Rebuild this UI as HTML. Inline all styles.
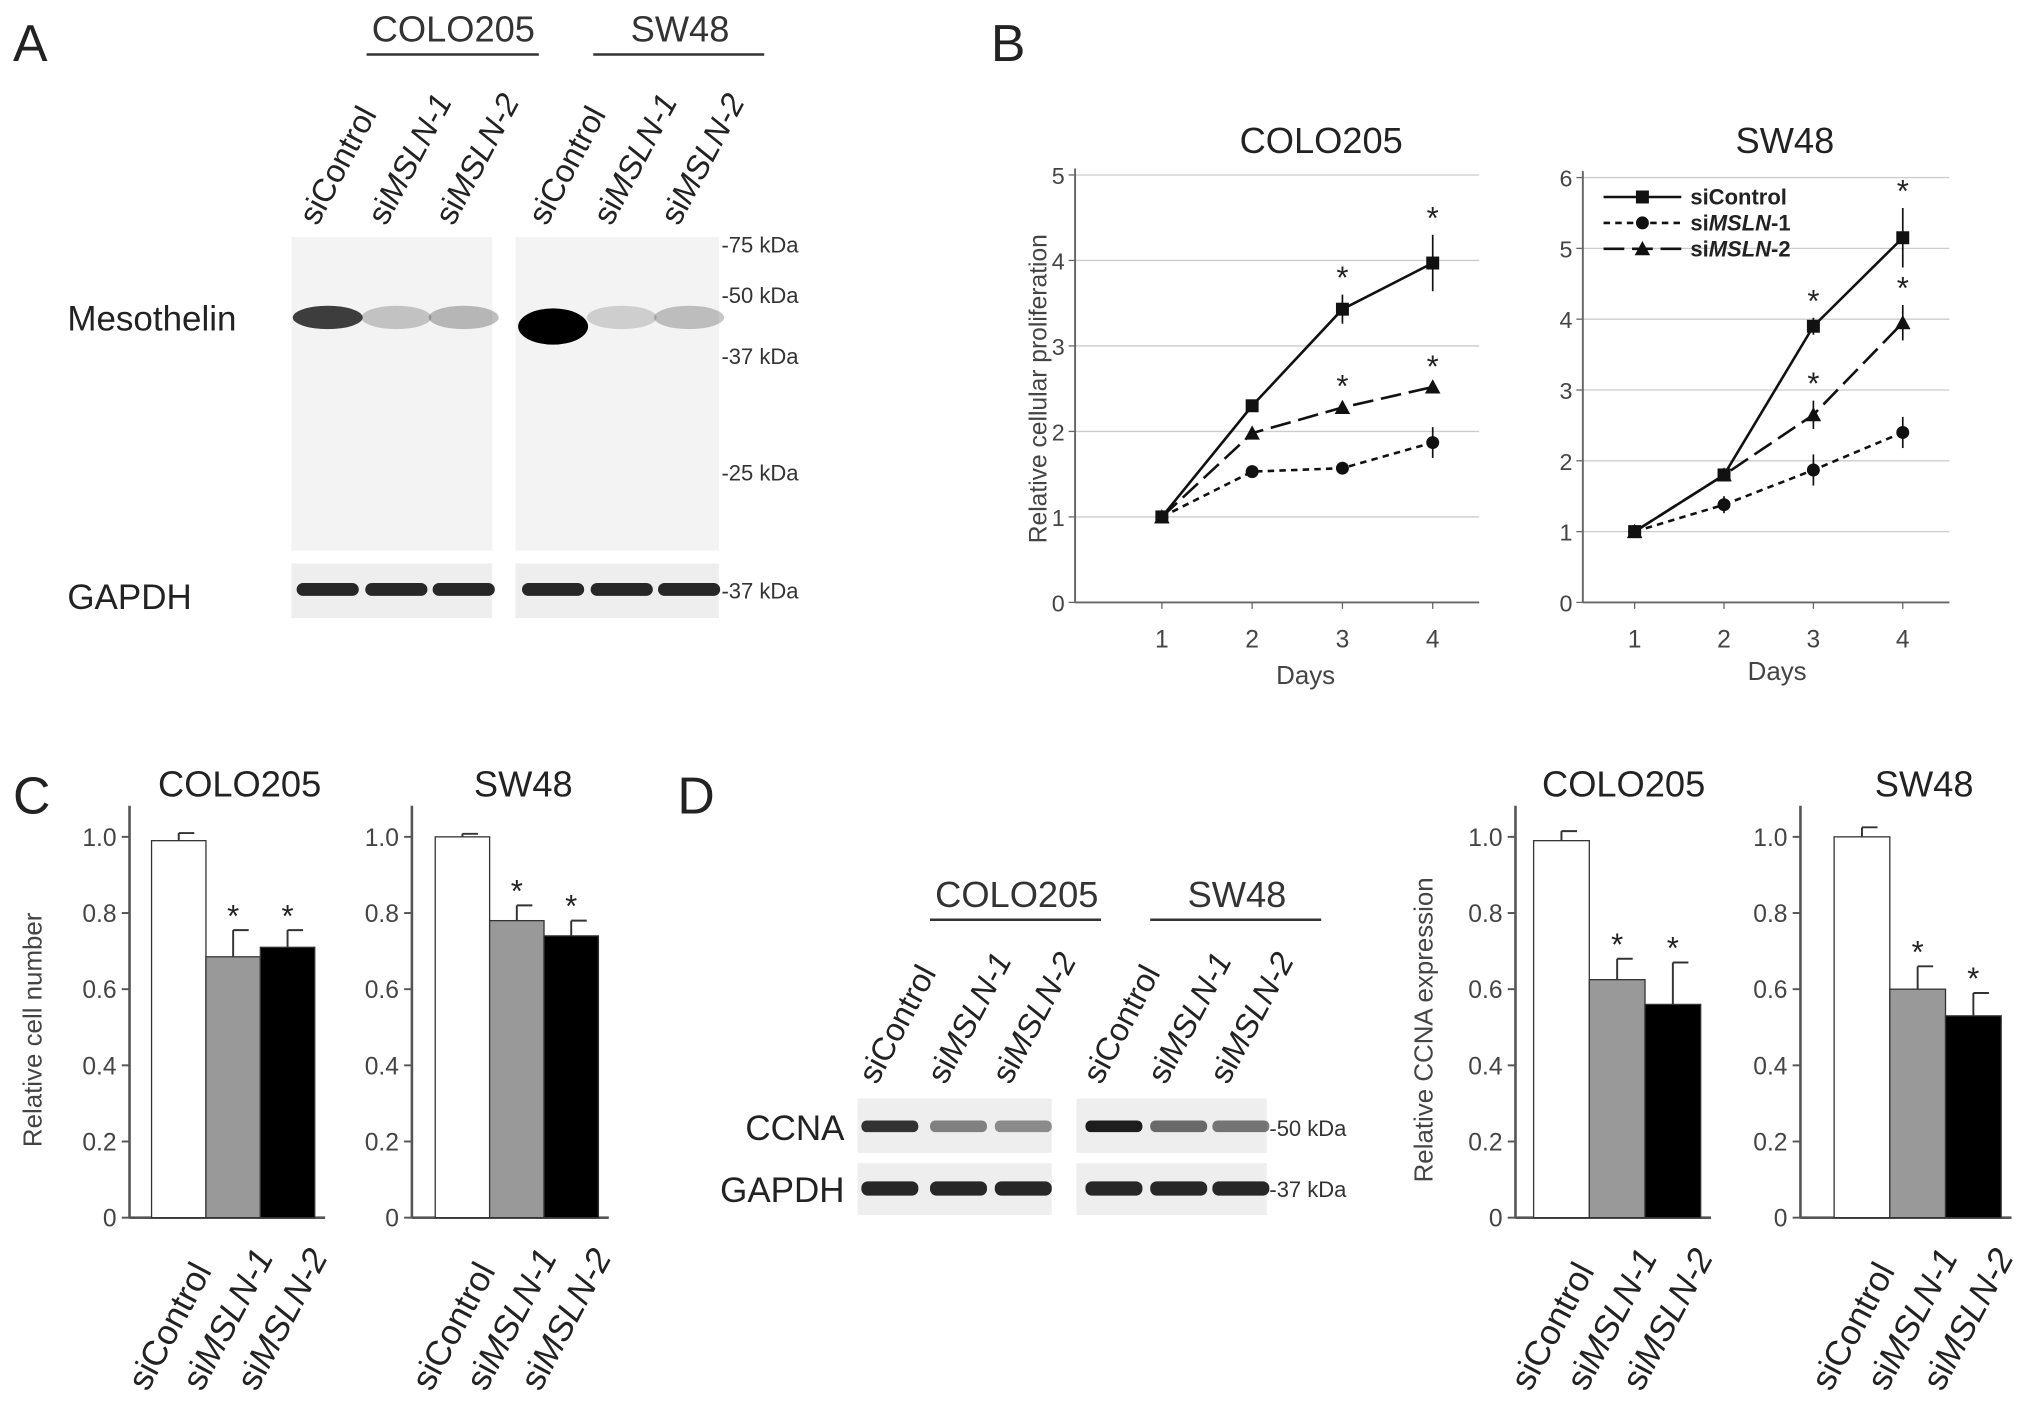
<!DOCTYPE html>
<html><head><meta charset="utf-8"><style>
html,body{margin:0;padding:0;background:#fff}
svg{display:block}
text{font-family:"Liberation Sans",sans-serif}
</style></head><body>
<svg id="fig" width="2031" height="1403" viewBox="0 0 1568 1083" xmlns="http://www.w3.org/2000/svg">
<rect width="1568" height="1083" fill="#fff"/>
<g id="root"></g>
</svg>
<script>
// ---- Panel B data ----
const days = [1, 2, 3, 4];
const coloCtrl = [1, 2.3, 3.43, 3.97];
const coloM1 = [1, 1.53, 1.57, 1.87];
const coloM2 = [1, 1.98, 2.28, 2.52];
const coloCtrlErr = [0, 0.06, 0.17, 0.33];
const coloM1Err = [0, 0.03, 0.03, 0.18];
const coloM2Err = [0, 0.03, 0.05, 0.04];
const swCtrl = [1, 1.8, 3.9, 5.15];
const swM1 = [1, 1.38, 1.87, 2.4];
const swM2 = [1, 1.8, 2.65, 3.95];
const swCtrlErr = [0, 0.07, 0.12, 0.42];
const swM1Err = [0, 0.12, 0.22, 0.22];
const swM2Err = [0, 0.05, 0.2, 0.25];
const coloTicks = [0, 1, 2, 3, 4, 5];
const swTicks = [0, 1, 2, 3, 4, 5, 6];
const coloStar = [false, false, true, true];
const swStar = [false, false, true, true];
// ---- Panel C / D data ----
const barCats = ["siControl", "siMSLN-1", "siMSLN-2"];
const cColo = [0.99, 0.685, 0.71];
const cColoErr = [0.02, 0.07, 0.045];
const cSw = [1.0, 0.78, 0.74];
const cSwErr = [0.008, 0.04, 0.04];
const dColo = [0.99, 0.625, 0.56];
const dColoErr = [0.025, 0.055, 0.11];
const dSw = [1.0, 0.6, 0.53];
const dSwErr = [0.025, 0.06, 0.06];
const barTicks = [0, 0.2, 0.4, 0.6, 0.8, 1.0];
const barStars = [false, true, true];

const NS = "http://www.w3.org/2000/svg";
const root = document.getElementById("root");
function mk(tag, attrs, parent, txt) {
  const e = document.createElementNS(NS, tag);
  for (const k in attrs) e.setAttribute(k, attrs[k]);
  if (txt !== undefined) e.textContent = txt;
  (parent || root).appendChild(e);
  return e;
}
function label(x, y, s, size, opts) {
  opts = opts || {};
  const t = mk("text", {x: x, y: y, "font-size": size, fill: opts.fill || "#333", "text-anchor": opts.anchor || "middle"}, opts.parent, s);
  if (opts.rot) t.setAttribute("transform", "rotate(" + opts.rot + " " + x + " " + y + ")");
  
  
  return t;
}
function siLabel(x, y, kind, size, name) {
  const t = mk("text", {x: x, y: y, "font-size": size, fill: "#222", "text-anchor": "start", transform: "rotate(-62 " + x + " " + y + ")"});
  
  
  if (kind === "siControl") { t.textContent = "siControl"; }
  else {
    mk("tspan", {}, t, "si");
    mk("tspan", {"font-style": "italic"}, t, "MSLN" + kind.slice(6));
  }
  return t;
}

// ---------------- Panel A ----------------
label(10, 47, "A", 40, {anchor: "start", fill: "#222", name: "panel-a-letter"});
label(350, 32, "COLO205", 28, {name: "blot-a-colo205-header"});
let l = mk("line", {x1: 283, y1: 42, x2: 416, y2: 42, stroke: "#333", "stroke-width": 2});  
label(525, 32, "SW48", 28, {name: "blot-a-sw48-header"});
l = mk("line", {x1: 458, y1: 42, x2: 590, y2: 42, stroke: "#333", "stroke-width": 2});  
const laneA = [253, 306, 358, 430, 480, 532];
laneA.forEach((x, i) => siLabel(x - 8, 175, barCats[i % 3], 25, "lane-label-a-" + i));
[[225, 380], [398, 555]].forEach((r, i) => {
  let b = mk("rect", {x: r[0], y: 183, width: r[1] - r[0], height: 242, fill: "#f3f3f3"});  
  b = mk("rect", {x: r[0], y: 435, width: r[1] - r[0], height: 42, fill: "#eeeeee"});  
});
const bandA = [[253, 0.75], [306, 0.2], [358, 0.25], [427, 1], [480, 0.15], [532, 0.22]];
bandA.forEach((b, i) => {
  const e = mk("ellipse", {cx: b[0], cy: i === 3 ? 252 : 245, rx: 27, ry: i === 3 ? 14 : 9, fill: "#000", opacity: b[1]});
   
  const g = mk("rect", {x: b[0] - 24, y: 450, width: 48, height: 10, rx: 5, fill: "#111", opacity: 0.9});
   
});
label(52, 255, "Mesothelin", 27, {anchor: "start", fill: "#222", name: "mesothelin-label"});
label(52, 470, "GAPDH", 27, {anchor: "start", fill: "#222", name: "gapdh-label-a"});
[["-75 kDa", 195], ["-50 kDa", 234], ["-37 kDa", 281], ["-25 kDa", 371], ["-37 kDa", 462]].forEach((m, i) =>
  label(557, m[1], m[0], 17, {anchor: "start", name: "kda-marker-a-" + i}));

// ---------------- Panel B ----------------
label(765, 47, "B", 40, {anchor: "start", fill: "#222", name: "panel-b-letter"});
function lineChart(cfg) {
  const g = mk("g", {});  
  const xs = d => cfg.x1 + (d - 1) * cfg.dx;
  const ys = v => cfg.y0 - (v - cfg.ticks[0]) * (cfg.y0 - cfg.yTop) / (cfg.ticks[cfg.ticks.length - 1] - cfg.ticks[0]);
  cfg.ticks.forEach(t => {
    if (t > 0) { const gl = mk("line", {x1: cfg.ax, x2: cfg.gx2, y1: ys(t), y2: ys(t), stroke: "#ccc", "stroke-width": 1}, g);   }
    const tk = mk("line", {x1: cfg.ax - 5, x2: cfg.ax, y1: ys(t), y2: ys(t), stroke: "#666"}, g);  
    label(cfg.ax - 8, ys(t) + 7, String(t), 18, {anchor: "end", fill: "#444", parent: g, name: "y-tick-label"});
  });
  let a = mk("line", {x1: cfg.ax, x2: cfg.ax, y1: cfg.yTop - 5, y2: cfg.y0, stroke: "#666", "stroke-width": 1.5}, g);  
  a = mk("line", {x1: cfg.ax, x2: cfg.gx2, y1: cfg.y0, y2: cfg.y0, stroke: "#666", "stroke-width": 1.5}, g);  
  days.forEach(d => {
    const tk = mk("line", {x1: xs(d), x2: xs(d), y1: cfg.y0, y2: cfg.y0 + 5, stroke: "#666"}, g);  
    label(xs(d), cfg.y0 + 35, String(d), 19, {fill: "#444", parent: g, name: "x-tick-label"});
  });
  label(cfg.daysX, cfg.y0 + 63 + (cfg.daysOff || 0), "Days", 20, {fill: "#444", parent: g, name: "x-axis-title"});
  label(cfg.titleX, 118, cfg.title, 28, {fill: "#222", parent: g, name: "chart-title"});
  cfg.series.forEach(s => {
    const pl = mk("polyline", {points: days.map((d, i) => xs(d) + "," + ys(s.v[i])).join(" "), fill: "none", stroke: "#111", "stroke-width": 2, "stroke-dasharray": s.dash}, g);
     
    days.forEach((d, i) => {
      if (s.e[i] > 0) { const eb = mk("line", {x1: xs(d), x2: xs(d), y1: ys(s.v[i] - s.e[i]), y2: ys(s.v[i] + s.e[i]), stroke: "#111", "stroke-width": 1.3}, g);   }
      let m;
      if (s.m === "sq") m = mk("rect", {x: xs(d) - 5, y: ys(s.v[i]) - 5, width: 10, height: 10, fill: "#111"}, g);
      else if (s.m === "ci") m = mk("circle", {cx: xs(d), cy: ys(s.v[i]), r: 5, fill: "#111"}, g);
      else m = mk("polygon", {points: (xs(d)) + "," + (ys(s.v[i]) - 6) + " " + (xs(d) - 6) + "," + (ys(s.v[i]) + 5) + " " + (xs(d) + 6) + "," + (ys(s.v[i]) + 5), fill: "#111"}, g);
       
      if (s.star && s.star[i]) label(xs(d), ys(s.v[i] + s.e[i]) - 5, "*", 24, {fill: "#222", parent: g, name: "significance-star"});
    });
  });
  return g;
}
lineChart({name: "colo205-proliferation-chart", title: "COLO205", titleX: 1020, daysX: 1008, ax: 830, gx2: 1142, x1: 897, dx: 69.7, y0: 465, yTop: 135, ticks: coloTicks,
  series: [{name: "colo-sicontrol", v: coloCtrl, e: coloCtrlErr, m: "sq", dash: "", star: coloStar},
           {name: "colo-simsln1", v: coloM1, e: coloM1Err, m: "ci", dash: "5,4"},
           {name: "colo-simsln2", v: coloM2, e: coloM2Err, m: "tr", dash: "16,6", star: coloStar}]});
lineChart({name: "sw48-proliferation-chart", title: "SW48", titleX: 1378, daysX: 1372, ax: 1222, gx2: 1505, x1: 1262, dx: 69, y0: 465, yTop: 137, ticks: swTicks, daysOff: -3,
  series: [{name: "sw-sicontrol", v: swCtrl, e: swCtrlErr, m: "sq", dash: "", star: swStar},
           {name: "sw-simsln1", v: swM1, e: swM1Err, m: "ci", dash: "5,4"},
           {name: "sw-simsln2", v: swM2, e: swM2Err, m: "tr", dash: "16,6", star: swStar}]});
label(808, 300, "Relative cellular proliferation", 19, {rot: -90, fill: "#444", name: "y-axis-title-b"});
// legend
const leg = mk("g", {});  
[["siControl", "", "sq"], ["siMSLN-1", "5,4", "ci"], ["siMSLN-2", "16,6", "tr"]].forEach((r, i) => {
  const y = 152 + i * 20;
  const ln = mk("line", {x1: 1238, x2: 1298, y1: y, y2: y, stroke: "#111", "stroke-width": 2, "stroke-dasharray": r[1]}, leg);  
  let m;
  if (r[2] === "sq") m = mk("rect", {x: 1263, y: y - 5, width: 10, height: 10, fill: "#111"}, leg);
  else if (r[2] === "ci") m = mk("circle", {cx: 1268, cy: y, r: 5, fill: "#111"}, leg);
  else m = mk("polygon", {points: "1268," + (y - 6) + " 1262," + (y + 5) + " 1274," + (y + 5), fill: "#111"}, leg);
   
  const t = mk("text", {x: 1305, y: y + 6, "font-size": 17, "font-weight": "bold", fill: "#222"}, leg);
   
  if (i === 0) t.textContent = "siControl";
  else { mk("tspan", {}, t, "si"); mk("tspan", {"font-style": "italic"}, t, "MSLN"); mk("tspan", {}, t, "-" + i); }
});

// ---------------- Bar charts ----------------
function barChart(cfg) {
  const g = mk("g", {});  
  const y0 = 940, y1 = 646;
  const ys = v => y0 - v * (y0 - y1);
  barTicks.forEach(t => {
    const tk = mk("line", {x1: cfg.ax - 6, x2: cfg.ax, y1: ys(t), y2: ys(t), stroke: "#555", "stroke-width": 1.5}, g);  
    label(cfg.ax - 10, ys(t) + 7, t === 0 ? "0" : t.toFixed(1), 19, {anchor: "end", fill: "#444", parent: g, name: "y-tick-label"});
  });
  let a = mk("line", {x1: cfg.ax, x2: cfg.ax, y1: 622, y2: y0, stroke: "#555", "stroke-width": 2}, g);  
  a = mk("line", {x1: cfg.ax, x2: cfg.bx + cfg.bw * 3 + 8, y1: y0, y2: y0, stroke: "#555", "stroke-width": 2}, g);  
  const fills = ["#fff", "#999", "#000"];
  cfg.v.forEach((v, i) => {
    const x = cfg.bx + i * cfg.bw;
    const eb = mk("path", {d: "M" + (x + cfg.bw / 2) + "," + ys(v) + "V" + ys(v + cfg.e[i]) + "M" + (x + cfg.bw / 2) + "," + ys(v + cfg.e[i]) + "h12", stroke: "#333", "stroke-width": 1.5, fill: "none"}, g);
     
    const r = mk("rect", {x: x, y: ys(v), width: cfg.bw, height: y0 - ys(v), fill: fills[i], stroke: "#333", "stroke-width": 1}, g);
     
    if (barStars[i]) label(x + cfg.bw / 2, ys(v + cfg.e[i]) - 3, "*", 24, {fill: "#222", parent: g, name: "significance-star"});
    siLabel(x + cfg.bw / 2 - 24, 1075, barCats[i], 27, "x-category-label");
  });
  label(cfg.bx + cfg.bw * 1.5 + 5, 615, cfg.title, 28, {fill: "#222", parent: g, name: "chart-title"});
}
label(10, 628, "C", 40, {anchor: "start", fill: "#222", name: "panel-c-letter"});
barChart({name: "c-colo205-bar-chart", title: "COLO205", ax: 100, bx: 117, bw: 42, v: cColo, e: cColoErr});
barChart({name: "c-sw48-bar-chart", title: "SW48", ax: 318, bx: 336, bw: 42, v: cSw, e: cSwErr});
label(32, 795, "Relative cell number", 20, {rot: -90, fill: "#444", name: "y-axis-title-c"});

label(523, 628, "D", 40, {anchor: "start", fill: "#222", name: "panel-d-letter"});
barChart({name: "d-colo205-bar-chart", title: "COLO205", ax: 1170, bx: 1184, bw: 43, v: dColo, e: dColoErr});
barChart({name: "d-sw48-bar-chart", title: "SW48", ax: 1390, bx: 1416, bw: 43, v: dSw, e: dSwErr});
label(1106, 795, "Relative CCNA expression", 20, {rot: -90, fill: "#444", name: "y-axis-title-d"});

// Panel D blot
label(785, 700, "COLO205", 28, {name: "blot-d-colo205-header"});
l = mk("line", {x1: 718, y1: 710, x2: 850, y2: 710, stroke: "#333", "stroke-width": 2});  
label(955, 700, "SW48", 28, {name: "blot-d-sw48-header"});
l = mk("line", {x1: 888, y1: 710, x2: 1020, y2: 710, stroke: "#333", "stroke-width": 2});  
const laneD = [687, 740, 790, 860, 910, 958];
laneD.forEach((x, i) => siLabel(x - 10, 838, barCats[i % 3], 25, "lane-label-d-" + i));
[[662, 812], [831, 978]].forEach((r, i) => {
  let b = mk("rect", {x: r[0], y: 848, width: r[1] - r[0], height: 42, fill: "#eeeeee"});  
  b = mk("rect", {x: r[0], y: 898, width: r[1] - r[0], height: 40, fill: "#eeeeee"});  
});
const ccnaI = [0.85, 0.5, 0.45, 0.95, 0.6, 0.55];
laneD.forEach((x, i) => {
  let b = mk("rect", {x: x - 22, y: 865, width: 44, height: 9, rx: 4, fill: "#111", opacity: ccnaI[i]});  
  b = mk("rect", {x: x - 22, y: 912, width: 44, height: 11, rx: 5, fill: "#111", opacity: 0.9});  
});
label(652, 880, "CCNA", 27, {anchor: "end", fill: "#222", name: "ccna-label"});
label(652, 928, "GAPDH", 27, {anchor: "end", fill: "#222", name: "gapdh-label-d"});
label(980, 877, "-50 kDa", 17, {anchor: "start", name: "kda-marker-d-0"});
label(980, 924, "-37 kDa", 17, {anchor: "start", name: "kda-marker-d-1"});
</script>
</body></html>
